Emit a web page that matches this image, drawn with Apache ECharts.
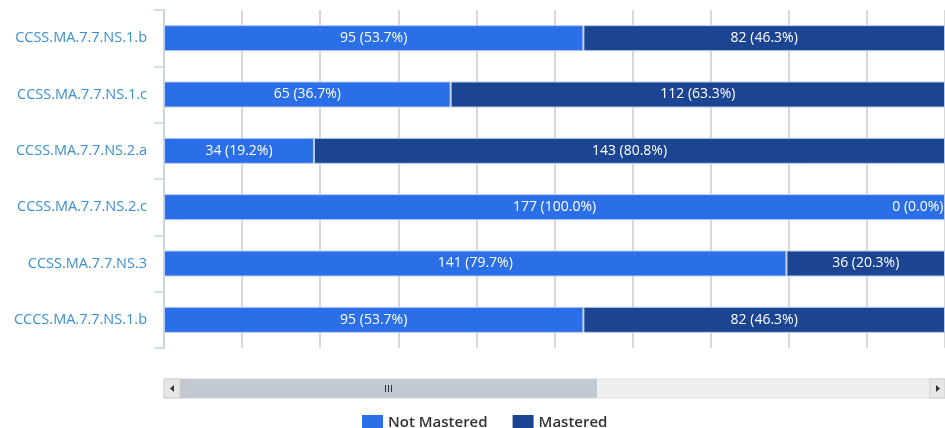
<!DOCTYPE html>
<html>
<head>
<meta charset="utf-8">
<script src="https://cdn.jsdelivr.net/npm/echarts@6/dist/echarts.min.js"></script>
<style>html,body{margin:0;padding:0;background:#fff;}#c{width:945px;height:428px;}</style>
</head>
<body>
<div id="c"></div>
<script>
const categories = ['CCSS.MA.7.7.NS.1.b','CCSS.MA.7.7.NS.1.c','CCSS.MA.7.7.NS.2.a','CCSS.MA.7.7.NS.2.c','CCSS.MA.7.7.NS.3','CCCS.MA.7.7.NS.1.b'];
const notMasteredCount = [95, 65, 34, 177, 141, 95];
const masteredCount = [82, 112, 143, 0, 36, 82];
const notMasteredPct = [53.7, 36.7, 19.2, 100.0, 79.7, 53.7];
const masteredPct = [46.3, 63.3, 80.8, 0.0, 20.3, 46.3];

const chart = echarts.init(document.getElementById('c'));
const font = '"Open Sans", "Noto Sans", sans-serif';
function mk(pcts, counts) {
  return pcts.map((p, i) => {
    const item = { value: p, count: counts[i] };
    if (p === 0) item.label = { position: 'insideRight', distance: 2 };
    return item;
  });
}
const labelFmt = p => p.data.count + ' (' + p.data.value.toFixed(1) + '%)';
chart.setOption({
  animation: false,
  grid: { left: 164, right: 0, top: 10, bottom: 80 },
  legend: {
    top: 410, left: 357,
    itemWidth: 21, itemHeight: 16, itemGap: 25,
    icon: 'rect',
    itemStyle: { borderWidth: 0 },
    textStyle: { fontFamily: font, fontSize: 15, color: '#333', fontWeight: 600 },
    data: ['Not Mastered', 'Mastered']
  },
  xAxis: {
    type: 'value', min: 0, max: 100, interval: 10,
    axisLabel: { show: false }, axisLine: { show: false }, axisTick: { show: false },
    splitLine: { lineStyle: { color: '#d8d8d8', width: 2 } }
  },
  yAxis: {
    type: 'category', inverse: true, data: categories,
    axisLine: { lineStyle: { color: '#c6d4e2', width: 1.5 } },
    axisTick: { show: true, length: 10, lineStyle: { color: '#c6d4e2', width: 1.5 } },
    axisLabel: { fontFamily: font, fontSize: 14.5, color: '#3a8fd0', margin: 17 }
  },
  series: [
    {
      name: 'Not Mastered', type: 'bar', stack: 'a', barWidth: 26,
      itemStyle: { color: '#2a6ee8', borderColor: '#b8cdf0', borderWidth: 1 },
      label: { show: true, position: 'inside', color: '#fff', fontFamily: font, fontSize: 14, formatter: labelFmt },
      data: mk(notMasteredPct, notMasteredCount)
    },
    {
      name: 'Mastered', type: 'bar', stack: 'a', barWidth: 26,
      itemStyle: { color: '#1b4592', borderColor: '#b8cdf0', borderWidth: 1 },
      label: { show: true, position: 'inside', color: '#fff', fontFamily: font, fontSize: 14, formatter: labelFmt },
      data: mk(masteredPct, masteredCount)
    }
  ],
  graphic: [
    { type: 'rect', shape: { x: 164, y: 379, width: 781, height: 19 }, style: { fill: '#efefef', stroke: '#e0e0e0' } },
    { type: 'rect', shape: { x: 180, y: 379, width: 417, height: 19 }, style: { fill: '#c2c9d1' } },
    { type: 'rect', shape: { x: 164, y: 379, width: 16, height: 19 }, style: { fill: '#e6e6e6', stroke: '#cfcfcf' } },
    { type: 'polygon', shape: { points: [[174, 385], [174, 392], [170, 388.5]] }, style: { fill: '#333' } },
    { type: 'rect', shape: { x: 930, y: 379, width: 15, height: 19 }, style: { fill: '#e6e6e6', stroke: '#cfcfcf' } },
    { type: 'polygon', shape: { points: [[936, 385], [936, 392], [940, 388.5]] }, style: { fill: '#333' } },
    { type: 'rect', shape: { x: 385, y: 385, width: 1, height: 7 }, style: { fill: '#333' } },
    { type: 'rect', shape: { x: 388, y: 385, width: 1, height: 7 }, style: { fill: '#333' } },
    { type: 'rect', shape: { x: 391, y: 385, width: 1, height: 7 }, style: { fill: '#333' } }
  ]
});
</script>
</body>
</html>
